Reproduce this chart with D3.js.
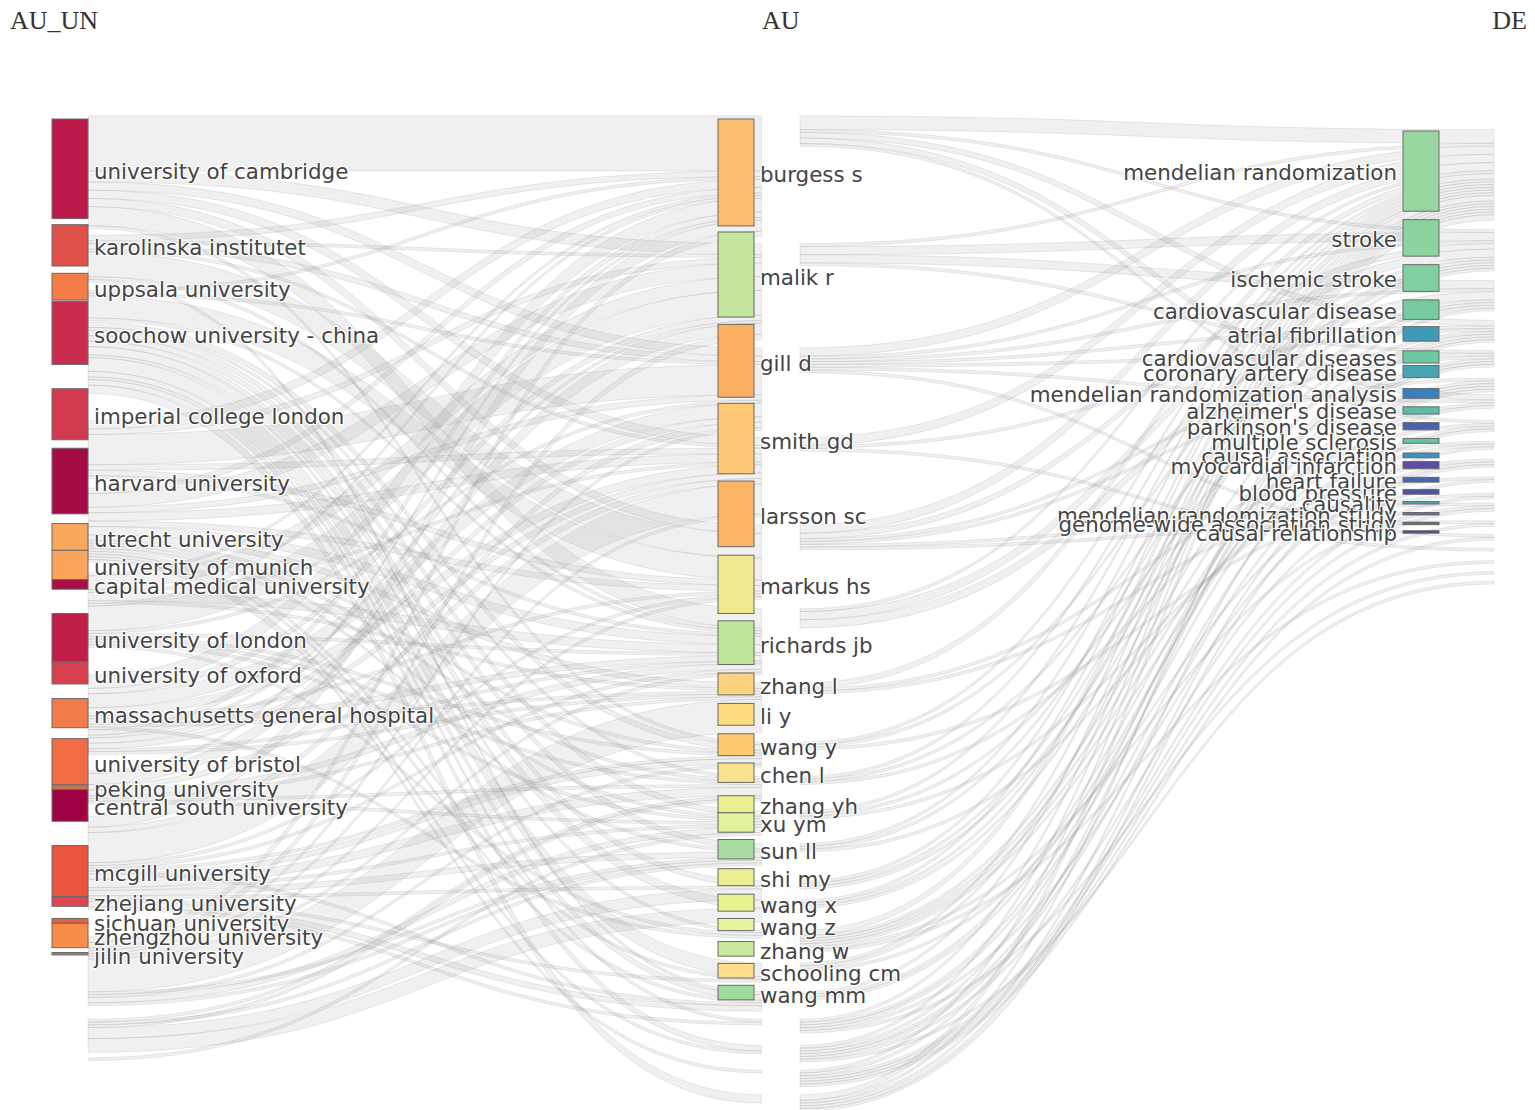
<!DOCTYPE html>
<html><head><meta charset="utf-8">
<script src="https://cdn.jsdelivr.net/npm/d3@7"></script>
<style>
body{margin:0;background:#fff;}
.lbl{font-family:"DejaVu Sans",Verdana,sans-serif;font-size:21.4px;fill:#444;
 text-shadow:1px 1px 1px #fff,-1px -1px 1px #fff,1px -1px 1px #fff,-1px 1px 1px #fff;}
.hdr{font-family:"Liberation Serif","Times New Roman",serif;font-size:26px;fill:#333;}
</style></head><body>
<svg id="c" width="1535" height="1110"></svg>
<script>
// ---------------- data ----------------
const columnTitles = ["AU_UN", "AU", "DE"];

const institutions = ["university of cambridge","karolinska institutet","uppsala university","soochow university - china",
 "imperial college london","harvard university","utrecht university","university of munich","capital medical university",
 "university of london","university of oxford","massachusetts general hospital","university of bristol","peking university",
 "central south university","mcgill university","zhejiang university","sichuan university","zhengzhou university","jilin university"];
const institutionGaps = [0,2.5,3,0.5,10,3.5,4,0,0,10,0,6,4.5,0,0,10,0,5,0,2];

const authors = ["burgess s","malik r","gill d","smith gd","larsson sc","markus hs","richards jb","zhang l","li y","wang y",
 "chen l","zhang yh","xu ym","sun ll","shi my","wang x","wang z","zhang w","schooling cm","wang mm"];
const authorGaps = [0,2.5,3,2.5,3,3.5,3,3.5,3.5,3.5,3,5.5,0,3,4,3.5,3,4.5,3,3];

const keywords = ["mendelian randomization","stroke","ischemic stroke","cardiovascular disease","atrial fibrillation",
 "cardiovascular diseases","coronary artery disease","mendelian randomization analysis","alzheimer's disease",
 "parkinson's disease","multiple sclerosis","causal association","myocardial infarction","heart failure","blood pressure",
 "causality","mendelian randomization study","genome-wide association study","causal relationship"];
const keywordGaps = [0,3.5,3.5,3.5,3,4,1,4.5,3.5,3.5,3.5,4,1.5,3.5,3,3,3.5,3,2.5];

// institution -> author links [source, target, value]
const linksUnAu = [
 ["university of cambridge","burgess s",20],["imperial college london","burgess s",3],["university of london","burgess s",5],
 ["university of oxford","burgess s",2],["university of bristol","burgess s",4],["karolinska institutet","burgess s",2],
 ["harvard university","burgess s",2],["uppsala university","burgess s",1],["mcgill university","burgess s",2],
 ["utrecht university","burgess s",1],["massachusetts general hospital","burgess s",1],["university of munich","burgess s",1],
 ["university of munich","malik r",9],["university of cambridge","malik r",4],["harvard university","malik r",5],
 ["massachusetts general hospital","malik r",4],["utrecht university","malik r",5],["imperial college london","malik r",2],
 ["university of london","malik r",2],["karolinska institutet","malik r",1],["mcgill university","malik r",2],["university of oxford","malik r",1],
 ["imperial college london","gill d",11],["university of london","gill d",5],["university of cambridge","gill d",3],
 ["karolinska institutet","gill d",2],["uppsala university","gill d",1],["university of oxford","gill d",2],["harvard university","gill d",2],
 ["university of bristol","gill d",2],["university of munich","gill d",1],["mcgill university","gill d",1],
 ["university of bristol","smith gd",11],["university of cambridge","smith gd",3],["harvard university","smith gd",3],
 ["university of london","smith gd",3],["university of oxford","smith gd",2],["imperial college london","smith gd",2],
 ["karolinska institutet","smith gd",1],["utrecht university","smith gd",1],["mcgill university","smith gd",1],
 ["massachusetts general hospital","smith gd",2],
 ["karolinska institutet","larsson sc",9],["uppsala university","larsson sc",8],["university of cambridge","larsson sc",3],
 ["imperial college london","larsson sc",2],["harvard university","larsson sc",2],["university of bristol","larsson sc",1],
 ["university of london","larsson sc",1],["mcgill university","larsson sc",1],
 ["university of cambridge","markus hs",7],["university of london","markus hs",2],["harvard university","markus hs",3],
 ["university of munich","markus hs",1],["massachusetts general hospital","markus hs",2],["utrecht university","markus hs",3],
 ["university of oxford","markus hs",1],["karolinska institutet","markus hs",1],["university of bristol","markus hs",1],
 ["mcgill university","markus hs",1],["uppsala university","markus hs",1],["imperial college london","markus hs",1],
 ["harvard university","richards jb",2],["utrecht university","richards jb",1],["university of london","richards jb",1],
 ["university of oxford","richards jb",1],["massachusetts general hospital","richards jb",1],["mcgill university","richards jb",12],
 ["university of cambridge","zhang l",1],["harvard university","zhang l",1],["peking university","zhang l",1],
 ["zhejiang university","zhang l",1],["capital medical university","zhang l",1],["central south university","zhang l",2],
 ["soochow university - china","zhang l",2],
 ["harvard university","li y",1],["massachusetts general hospital","li y",1],["zhengzhou university","li y",1],
 ["sichuan university","li y",1],["capital medical university","li y",1],["central south university","li y",3],
 ["soochow university - china","li y",1],
 ["harvard university","wang y",1],["massachusetts general hospital","wang y",1],["jilin university","wang y",1],
 ["zhejiang university","wang y",2],["capital medical university","wang y",1],["central south university","wang y",1],
 ["soochow university - china","wang y",2],
 ["harvard university","chen l",1],["mcgill university","chen l",1],["sichuan university","chen l",1],
 ["zhejiang university","chen l",1],["central south university","chen l",2],["soochow university - china","chen l",2],
 ["zhengzhou university","zhang yh",4],["soochow university - china","zhang yh",2],["central south university","zhang yh",1],
 ["zhengzhou university","xu ym",5],["soochow university - china","xu ym",3],
 ["university of london","sun ll",1],["capital medical university","sun ll",1],["soochow university - china","sun ll",1],
 ["harvard university","shi my",1],["central south university","shi my",1],["soochow university - china","shi my",5],
 ["harvard university","wang x",1],["karolinska institutet","wang x",1],["peking university","wang x",1],
 ["central south university","wang x",2],["soochow university - china","wang x",2],
 ["central south university","wang z",1],["soochow university - china","wang z",1],
 ["harvard university","zhang w",1],["soochow university - china","zhang w",2],
 ["harvard university","schooling cm",1],
 ["soochow university - china","wang mm",3]
];

// author -> keyword links [source, target, value]
const linksAuDe = [
 ["burgess s","mendelian randomization",5],["burgess s","cardiovascular disease",2],["burgess s","coronary artery disease",2],
 ["burgess s","stroke",1],["burgess s","mendelian randomization analysis",1],
 ["malik r","stroke",3],["malik r","ischemic stroke",3],["malik r","mendelian randomization",1],["malik r","atrial fibrillation",1],
 ["gill d","mendelian randomization",3],["gill d","stroke",1],["gill d","cardiovascular disease",1],["gill d","atrial fibrillation",1],
 ["gill d","ischemic stroke",1],["gill d","coronary artery disease",1],["gill d","blood pressure",1],
 ["smith gd","mendelian randomization",3],["smith gd","causality",1],["smith gd","cardiovascular disease",1],
 ["larsson sc","mendelian randomization",3],["larsson sc","stroke",2],["larsson sc","cardiovascular diseases",1],
 ["larsson sc","atrial fibrillation",1],["larsson sc","heart failure",1],["larsson sc","myocardial infarction",1],
 ["markus hs","stroke",3],["markus hs","ischemic stroke",3],["markus hs","mendelian randomization",1],
 ["richards jb","mendelian randomization",2],["richards jb","multiple sclerosis",1],["richards jb","alzheimer's disease",1],
 ["zhang l","mendelian randomization",1],["zhang l","stroke",1],["zhang l","causal association",1],
 ["li y","mendelian randomization",1],["li y","ischemic stroke",1],["li y","mendelian randomization analysis",1],
 ["wang y","mendelian randomization",1],["wang y","cardiovascular disease",1],["wang y","parkinson's disease",1],
 ["chen l","mendelian randomization",1],["chen l","stroke",1],["chen l","alzheimer's disease",1],
 ["zhang yh","mendelian randomization",1],["zhang yh","stroke",1],["zhang yh","ischemic stroke",1],
 ["xu ym","mendelian randomization",1],["xu ym","stroke",1],["xu ym","ischemic stroke",1],
 ["sun ll","mendelian randomization",2],["sun ll","cardiovascular disease",1],["sun ll","atrial fibrillation",1],
 ["sun ll","cardiovascular diseases",1],["sun ll","coronary artery disease",1],["sun ll","myocardial infarction",1],
 ["sun ll","mendelian randomization study",1],
 ["shi my","mendelian randomization",1],["shi my","stroke",1],["shi my","parkinson's disease",1],
 ["wang x","mendelian randomization",1],["wang x","cardiovascular diseases",1],["wang x","atrial fibrillation",1],
 ["wang z","mendelian randomization",1],["wang z","parkinson's disease",1],["wang z","atrial fibrillation",1],
 ["wang z","cardiovascular diseases",1],["wang z","genome-wide association study",1],
 ["zhang w","mendelian randomization",1],["zhang w","multiple sclerosis",1],["zhang w","cardiovascular disease",1],
 ["zhang w","coronary artery disease",1],["zhang w","mendelian randomization analysis",1],["zhang w","causal relationship",1],
 ["schooling cm","mendelian randomization",1],["schooling cm","causal association",1],["schooling cm","cardiovascular disease",1],
 ["schooling cm","myocardial infarction",1],["schooling cm","heart failure",1],["schooling cm","blood pressure",1],
 ["wang mm","mendelian randomization",2],["wang mm","ischemic stroke",1],["wang mm","cardiovascular diseases",1],
 ["wang mm","mendelian randomization analysis",1],["wang mm","alzheimer's disease",1]
];

// ---------------- styles ----------------
const institutionColors = ["#bb1a4a","#e0504b","#f47c47","#c92c4d","#d23a50","#a50c45","#fba85f","#fba45b","#a80f45",
 "#c01f4a","#d9404f","#f27d4c","#f26d45","#c9734f","#9e0142","#e9553f","#dc4652","#e9603f","#f88c4b","#b07860"];
const authorColors = ["#fdbf6f","#c4e59b","#fcaf62","#fdc776","#fdb565","#f0e98f","#bde597","#fed27f","#fedc82","#fdca72",
 "#f7e38d","#eaf08f","#e0f29a","#a9dca0","#eeed93","#e6f28f","#e3f49a","#cdea9c","#fede8a","#a0d99c"];
const keywordColors = ["#99d6a0","#8dd3a0","#81cfa0","#78cba0","#3d9bb8","#6ec9a2","#4aa3b3","#3a7fc0","#5dbda6","#4b62ad",
 "#66c4a5","#3a92bd","#5a4fa2","#4467b0","#544fa0","#52a9a8","#4a78b2","#4a7090","#4c4f86"];

// ---------------- layout ----------------
const svg = d3.select("#c");
const unit = d3.scaleLinear().domain([0, 1]).range([0, 2.43]);
const colX = d3.scaleOrdinal().domain([0, 1, 2]).range([52, 718, 1403]);
const colTop = [119, 119, 131];
const nodeW = 36;

const columns = [
  {names: institutions, gaps: institutionGaps, colors: institutionColors},
  {names: authors, gaps: authorGaps, colors: authorColors},
  {names: keywords, gaps: keywordGaps, colors: keywordColors}
];
const nodeMap = new Map();
const nodes = [];
columns.forEach((c, ci) => c.names.forEach((n, i) => {
  const nd = {name: n, col: ci, idx: i, color: c.colors[i], inV: 0, outV: 0, sourceLinks: [], targetLinks: []};
  nodeMap.set(ci + "|" + n, nd); nodes.push(nd);
}));
const links = [];
[[linksUnAu, 0], [linksAuDe, 1]].forEach(([arr, c]) => arr.forEach(([s, t, v]) => {
  const S = nodeMap.get(c + "|" + s), T = nodeMap.get((c + 1) + "|" + t);
  const l = {source: S, target: T, value: v};
  S.outV += v; T.inV += v; S.sourceLinks.push(l); T.targetLinks.push(l); links.push(l);
}));
columns.forEach((c, ci) => {
  let cum = 0;
  c.names.forEach((n, i) => {
    const nd = nodeMap.get(ci + "|" + n);
    nd.value = Math.max(nd.inV, nd.outV);
    cum += c.gaps[i];
    nd.y0 = colTop[ci] + unit(cum);
    cum += nd.value;
    nd.y1 = colTop[ci] + unit(cum);
    nd.x0 = colX(ci); nd.x1 = nd.x0 + nodeW;
  });
});
nodes.forEach(nd => {
  nd.sourceLinks.sort((a, b) => a.target.y0 - b.target.y0);
  nd.targetLinks.sort((a, b) => a.source.y0 - b.source.y0);
  let y = nd.y0;
  nd.sourceLinks.forEach(l => { l.sy0 = y; y += unit(l.value); l.sy1 = y; });
  y = nd.y0;
  nd.targetLinks.forEach(l => { l.ty0 = y; y += unit(l.value); l.ty1 = y; });
});

function ribbon(l) {
  const x0 = l.source.x1, x1 = l.target.x0, xi = d3.interpolateNumber(x0, x1);
  const xa = xi(0.5), xb = xi(0.5);
  const p = d3.path();
  p.moveTo(x0, l.sy0);
  p.bezierCurveTo(xa, l.sy0, xb, l.ty0, x1, l.ty0);
  p.lineTo(x1, l.ty1);
  p.bezierCurveTo(xb, l.ty1, xa, l.sy1, x0, l.sy1);
  p.closePath();
  return p.toString();
}

// links layer (rendered in its own scaled frame, as in the original figure)
svg.append("g")
  .attr("transform", "translate(-6,-18.5) scale(1.069,1.13)")
  .selectAll("path").data(links).join("path")
  .attr("d", ribbon)
  .attr("fill", "rgba(160,160,160,0.16)")
  .attr("stroke", "rgba(110,110,110,0.22)")
  .attr("stroke-width", 0.6);

// nodes
svg.append("g").selectAll("rect").data(nodes).join("rect")
  .attr("x", d => d.x0).attr("y", d => d.y0)
  .attr("width", nodeW).attr("height", d => Math.max(1, d.y1 - d.y0))
  .attr("fill", d => d.color)
  .attr("stroke", "#6a6a6a").attr("stroke-width", 1);

// labels
svg.append("g").selectAll("text").data(nodes).join("text")
  .attr("class", "lbl")
  .attr("x", d => d.col === 2 ? d.x0 - 6 : d.x1 + 6)
  .attr("y", d => (d.y0 + d.y1) / 2 + (d.col === 2 ? 9 : 10))
  .attr("text-anchor", d => d.col === 2 ? "end" : "start")
  .text(d => d.name);

// column titles
const titleX = [10, 762, 1527];
svg.append("g").selectAll("text").data(columnTitles).join("text")
  .attr("class", "hdr")
  .attr("x", (d, i) => titleX[i]).attr("y", 29)
  .attr("text-anchor", (d, i) => i === 2 ? "end" : "start")
  .text(d => d);
</script>
</body></html>
